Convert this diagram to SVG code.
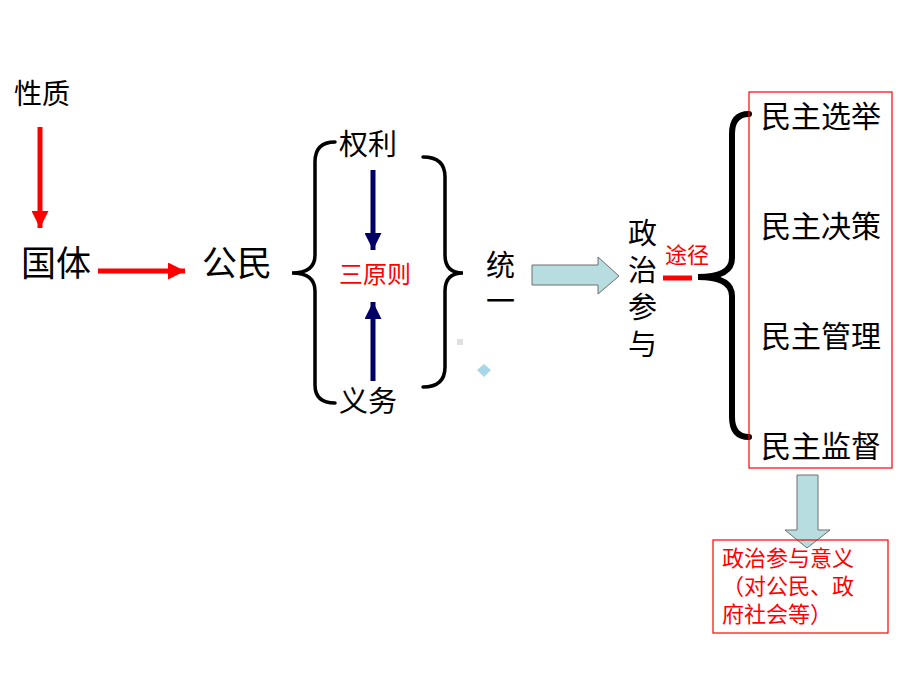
<svg xmlns="http://www.w3.org/2000/svg" width="920" height="690" viewBox="0 0 920 690">
<defs>
<style>
text{font-family:"Noto Sans CJK SC","Liberation Sans",sans-serif;fill:#000}
.red{fill:#ff0000}
.brace{fill:none;stroke:#000;stroke-width:3.5;stroke-linecap:round}
.big{stroke-width:6}
.ra{stroke:#ff0000;stroke-width:5;fill:none}
.ba{stroke:#000066;stroke-width:5;fill:none}
.block{fill:#b7dde0;stroke:#6e6e6e;stroke-width:1}
</style>
<marker id="mr" viewBox="0 0 10 10" refX="10" refY="5" markerWidth="3.6" markerHeight="3.4" orient="auto" markerUnits="strokeWidth"><path d="M0,0 L10,5 L0,10 Z" fill="#ff0000"/></marker>
<marker id="mb" viewBox="0 0 10 10" refX="10" refY="5" markerWidth="3.8" markerHeight="3.4" orient="auto" markerUnits="strokeWidth"><path d="M0,0 L10,5 L0,10 Z" fill="#000066"/></marker>
</defs>
<rect width="920" height="690" fill="#fff"/>

<g id="connectors">
<line class="ra" x1="40" y1="127" x2="40" y2="228" marker-end="url(#mr)"/>
<line class="ra" x1="98" y1="271" x2="185" y2="271" marker-end="url(#mr)"/>
<line class="ba" x1="373" y1="170" x2="373" y2="250" marker-end="url(#mb)"/>
<line class="ba" x1="373" y1="381" x2="373" y2="302" marker-end="url(#mb)"/>
<path class="brace" d="M335,142 Q315,142 315,162 L315,255 Q315,273 292,273 Q315,273 315,291 L315,385 Q315,403 335,403"/>
<path class="brace" d="M423,157 Q445,157 445,177 L445,255 Q445,273 463,273 Q445,273 445,291 L445,367 Q445,387 423,387"/>
<path class="block" d="M532,265 L598,265 L598,257 L619,276 L598,294 L598,285 L532,285 Z"/>
<line x1="663" y1="278" x2="692" y2="278" stroke="#ff0000" stroke-width="5"/>
<path class="brace big" d="M749,114 Q732,114 732,134 L732,258 Q732,277 698,277 Q732,277 732,296 L732,417 Q732,437 749,437"/>
<path class="block" d="M797,475 L818,475 L818,530 L830,530 L807,548 L785,530 L797,530 Z"/>
</g>

<g id="n-xingzhi"><text x="14" y="104" font-size="28">性质</text></g>
<g id="n-guoti"><text x="21" y="276" font-size="35">国体</text></g>
<g id="n-gongmin"><text x="202" y="276" font-size="35">公民</text></g>
<g id="n-quanli"><text x="339" y="155" font-size="29">权利</text></g>
<g id="n-sanyuanze"><text class="red" x="339" y="283" font-size="24">三原则</text></g>
<g id="n-yiwu"><text x="339" y="412" font-size="29">义务</text></g>
<g id="n-tongyi"><text x="486" y="276" font-size="29">统</text><text x="486" y="312" font-size="29">一</text></g>
<g id="n-deco"><rect x="457" y="339" width="6" height="6" fill="#e0e0e0"/><path d="M484,364 L491,370 L484,377 L477,370 Z" fill="#a8d8e8"/></g>
<g id="n-zhengzhicanyu">
<text x="628" y="244" font-size="29">政</text>
<text x="628" y="281" font-size="29">治</text>
<text x="628" y="318" font-size="29">参</text>
<text x="628" y="355" font-size="29">与</text>
</g>
<g id="n-tujing"><text class="red" x="665" y="263" font-size="22">途径</text></g>
<g id="n-minzhu">
<rect x="749" y="92" width="143" height="376" fill="none" stroke="#ff0000" stroke-width="1.2"/>
<text x="761" y="127" font-size="30">民主选举</text>
<text x="761" y="237" font-size="30">民主决策</text>
<text x="761" y="347" font-size="30">民主管理</text>
<text x="761" y="457" font-size="30">民主监督</text>
</g>
<g id="n-yiyi">
<rect x="713" y="540" width="175" height="93" fill="none" stroke="#ff0000" stroke-width="1.2"/>
<text class="red" x="722" y="566" font-size="22">政治参与意义</text>
<text class="red" x="722" y="594" font-size="22">（对公民、政</text>
<text class="red" x="722" y="622" font-size="22">府社会等）</text>
</g>
</svg>
